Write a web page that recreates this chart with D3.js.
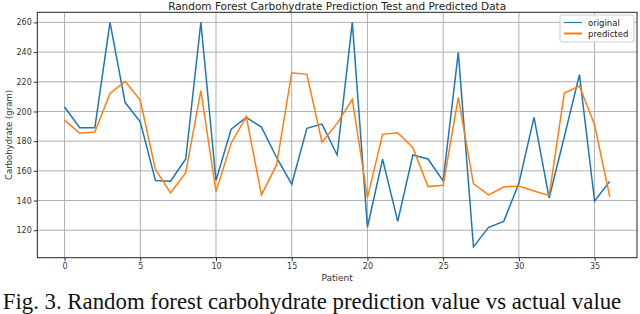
<!DOCTYPE html>
<html>
<head>
<meta charset="utf-8">
<script src="https://cdn.jsdelivr.net/npm/d3@7"></script>
<style>
  body { margin: 0; background: #fff; }
  svg { display: block; }
</style>
</head>
<body>
<div id="chart"></div>
<script>
var width = 640,
    height = 314;

// patient index 0..36
var patients = d3.range(0, 37);
var original = [203, 189, 189, 260, 206, 193, 153.5, 153, 168, 260,
    153.5, 188, 196, 189.5, 169, 151, 188.7, 191.5, 170.7, 260,
    122, 167.8, 126, 170.7, 168, 153.2, 239.8, 108.8, 122, 126,
    151.6, 196, 141.7, 183, 224.8, 139.7, 152.9];
var predicted = [194.2, 185.3, 186.2, 212.2, 220.3, 207.5, 161, 145.1, 158.8, 214,
    146, 178.6, 196.5, 143.8, 164, 226.1, 225, 179.3, 192, 208.2,
    142, 184.6, 185.7, 175.6, 149.4, 150.3, 209.5, 151.2, 143.8, 149.1,
    149.8, 146.4, 143.3, 212.4, 217.1, 190.9, 142.6];
var xTicks = [0, 5, 10, 15, 20, 25, 30, 35];
var yTicks = [120, 140, 160, 180, 200, 220, 240, 260];
var seriesNames = ["original", "predicted"];
var seriesColors = ["#1f77b4", "#ff7f0e"];

var margin = {top: 12.3, right: 3, bottom: 56.3, left: 37.3};

var x = d3.scaleLinear()
    .domain([-1.8, 37.8])
    .range([margin.left, width - margin.right]);
var y = d3.scaleLinear()
    .domain([101.5, 266.8])
    .range([height - margin.bottom, margin.top]);

var svg = d3.select("#chart").append("svg")
    .attr("width", width)
    .attr("height", height)
    .style("font-family", "'DejaVu Sans', sans-serif");

// grid lines
svg.append("g")
    .selectAll("line.gx")
    .data(xTicks)
    .enter().append("line")
    .attr("x1", function(d) { return x(d); })
    .attr("x2", function(d) { return x(d); })
    .attr("y1", y.range()[0])
    .attr("y2", y.range()[1])
    .attr("stroke", "#b0b0b0")
    .attr("stroke-width", 1);
svg.append("g")
    .selectAll("line.gy")
    .data(yTicks)
    .enter().append("line")
    .attr("x1", x.range()[0])
    .attr("x2", x.range()[1])
    .attr("y1", function(d) { return y(d); })
    .attr("y2", function(d) { return y(d); })
    .attr("stroke", "#b0b0b0")
    .attr("stroke-width", 1);

// lines
var line = d3.line()
    .x(function(d, i) { return x(patients[i]); })
    .y(function(d) { return y(d); });

[original, predicted].forEach(function(vals, k) {
    svg.append("path")
        .datum(vals)
        .attr("d", line)
        .attr("fill", "none")
        .attr("stroke", seriesColors[k])
        .attr("stroke-width", 1.5)
        .attr("stroke-linejoin", "miter");
});

// axes
var xAxis = svg.append("g")
    .attr("transform", "translate(0," + y.range()[0] + ")")
    .call(d3.axisBottom(x).tickValues(xTicks).tickSize(3.5).tickPadding(2).tickSizeOuter(0));
var yAxis = svg.append("g")
    .attr("transform", "translate(" + x.range()[0] + ",0)")
    .call(d3.axisLeft(y).tickValues(yTicks).tickSize(3.5).tickPadding(2).tickSizeOuter(0));
[xAxis, yAxis].forEach(function(a) {
    a.selectAll("text").attr("font-size", 8).attr("fill", "#333").style("font-family", "'DejaVu Sans', sans-serif");
    a.selectAll("line").attr("stroke", "#333");
    a.select(".domain").remove();
});

// frame
svg.append("rect")
    .attr("x", x.range()[0])
    .attr("y", y.range()[1])
    .attr("width", x.range()[1] - x.range()[0])
    .attr("height", y.range()[0] - y.range()[1])
    .attr("fill", "none")
    .attr("stroke", "#222")
    .attr("stroke-width", 1);

// title, axis labels
var cx = (x.range()[0] + x.range()[1]) / 2;
svg.append("text")
    .attr("x", cx)
    .attr("y", 9.5)
    .attr("text-anchor", "middle")
    .attr("font-size", 10.5)
    .attr("fill", "#222")
    .text("Random Forest Carbohydrate Prediction Test and Predicted Data");
svg.append("text")
    .attr("x", cx)
    .attr("y", 281)
    .attr("text-anchor", "middle")
    .attr("font-size", 9)
    .attr("fill", "#333")
    .text("Patient");
svg.append("text")
    .attr("transform", "translate(12," + ((y.range()[0] + y.range()[1]) / 2) + ") rotate(-90)")
    .attr("text-anchor", "middle")
    .attr("font-size", 8.5)
    .attr("fill", "#333")
    .text("Carbohydrate (gram)");

// legend
var lg = svg.append("g").attr("transform", "translate(560,15)");
lg.append("rect")
    .attr("width", 74)
    .attr("height", 27)
    .attr("rx", 2)
    .attr("fill", "#fff")
    .attr("fill-opacity", 0.9)
    .attr("stroke", "#ccc");
seriesNames.forEach(function(name, k) {
    lg.append("line")
        .attr("x1", 4).attr("x2", 22)
        .attr("y1", 7.5 + k * 11).attr("y2", 7.5 + k * 11)
        .attr("stroke", seriesColors[k])
        .attr("stroke-width", k === 0 ? 1.2 : 2);
    lg.append("text")
        .attr("x", 28)
        .attr("y", 10.5 + k * 11)
        .attr("font-size", 8.5)
        .attr("fill", "#222")
        .text(name);
});

// figure caption, covering the lower part of the axis label
svg.append("rect")
    .attr("x", 0).attr("y", 282)
    .attr("width", width).attr("height", height - 282)
    .attr("fill", "#fff");
svg.append("text")
    .attr("x", 312)
    .attr("y", 309)
    .attr("text-anchor", "middle")
    .attr("font-size", 22.8)
    .attr("fill", "#111")
    .style("font-family", "'Liberation Serif', 'Times New Roman', serif")
    .text("Fig. 3. Random forest carbohydrate prediction value vs actual value");
</script>
</body>
</html>
